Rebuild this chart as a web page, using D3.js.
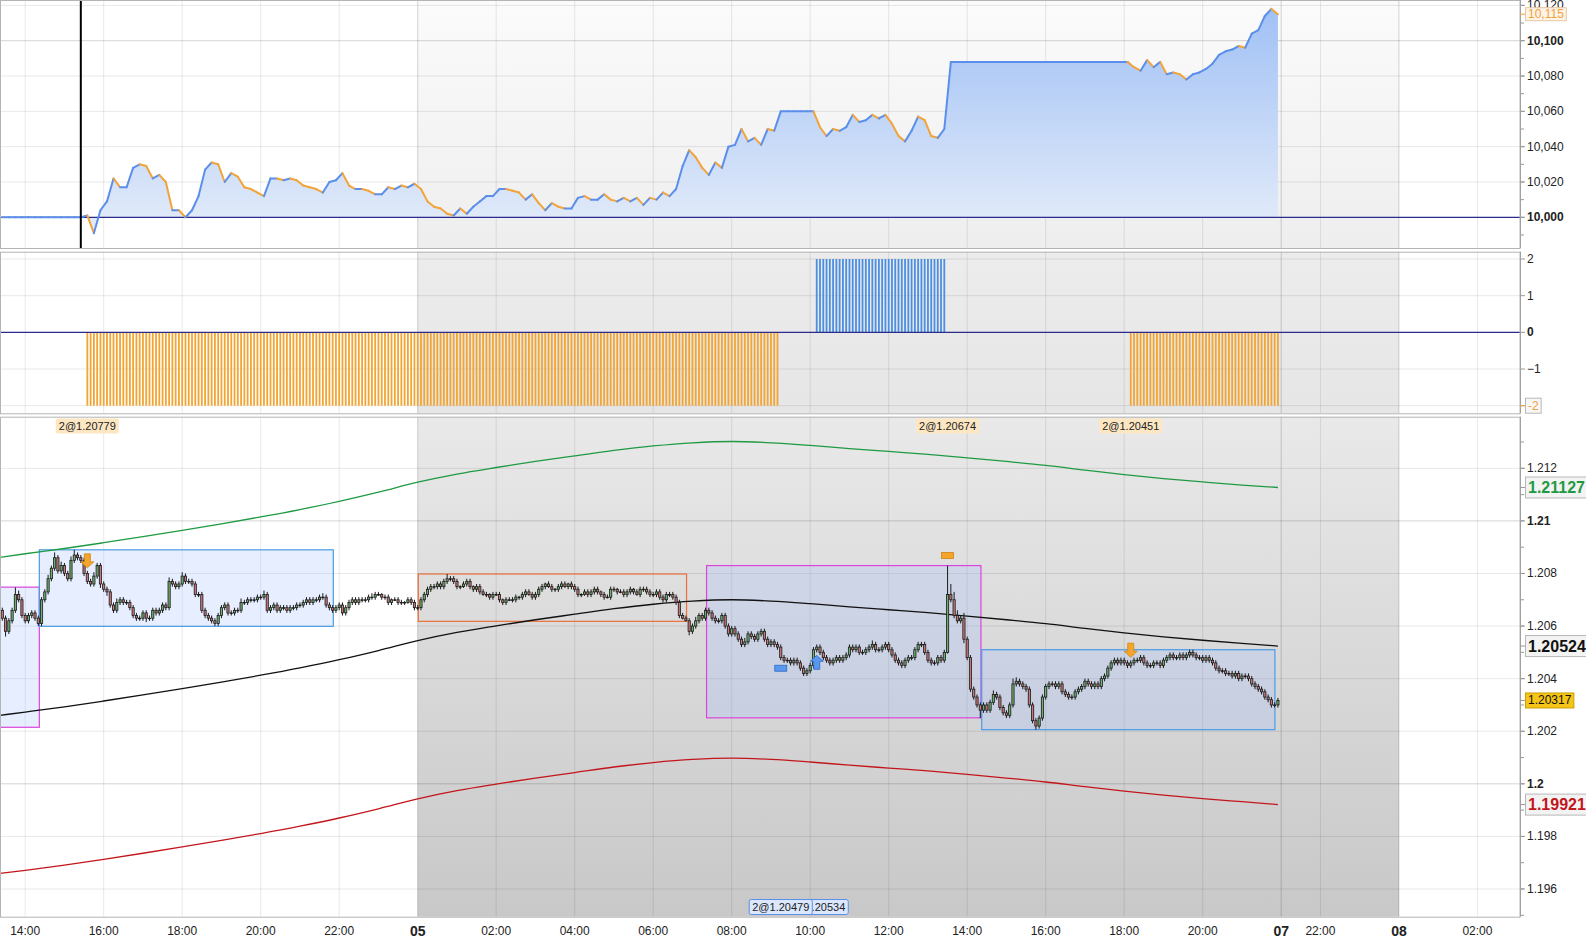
<!DOCTYPE html>
<html>
<head>
<meta charset="utf-8">
<script src="https://cdn.jsdelivr.net/npm/d3@7"></script>
<style>
body { margin: 0; background: #fff; }
svg { display: block; font-family: "Liberation Sans", Arial, sans-serif; }
</style>
</head>
<body>
<script>
// ---- data -------------------------------------------------------------
// 5 minute candles from 13:20 (day 04) to 21:55 (day 05), closes in pips above 1.2000
var firstOpen = 64;
var closes = [
  66,63,58,62,66,72,70,64,                 // 13:20
  62,64,65,63,61,70,73,78,82,86,81,83,     // 14:00
  80,78,85,87,86,85,80,77,76,79,83,76,     // 15:00
  74,73,68,66,69,70,69,69,67,64,63,63,     // 16:00
  65,63,63,66,65,66,68,67,77,76,75,76,     // 17:00
  79,77,77,76,72,72,66,64,63,62,61,64,     // 18:00
  67,68,65,65,66,66,69,69,70,70,70,71,     // 19:00
  71,72,66,67,68,66,67,67,66,67,67,68,     // 20:00
  68,69,70,69,70,70,71,71,68,67,66,67,     // 21:00
  68,65,67,69,70,69,70,70,70,71,71,72,     // 22:00
  72,71,71,69,70,70,69,69,69,70,69,67,     // 23:00
  67,70,72,74,75,75,76,75,77,78,78,77,     // 00:00 (05)
  75,75,76,77,75,74,75,73,72,72,71,72,     // 01:00
  72,70,69,70,70,70,71,71,72,73,72,71,     // 02:00
  72,74,75,76,75,74,74,75,76,75,76,75,     // 03:00
  74,72,72,73,72,73,74,73,72,71,71,74,     // 04:00
  74,73,73,72,73,74,73,72,74,74,73,72,     // 05:00
  72,73,71,70,72,72,71,69,64,63,62,58,     // 06:00
  60,62,64,63,66,65,63,62,62,64,60,57,     // 07:00
  59,57,55,53,54,57,56,55,57,58,55,53,     // 08:00
  54,53,52,48,47,47,46,47,46,44,42,43,     // 09:00
  45,51,52,50,48,47,46,47,48,47,48,49,     // 10:00
  52,51,52,50,50,51,52,53,51,51,52,53,     // 11:00
  51,49,47,46,45,47,48,48,51,53,53,50,     // 12:00
  47,46,46,48,47,50,72,70,64,62,63,55,     // 13:00
  48,36,33,30,28,30,28,31,34,33,29,27,     // 14:00
  26,30,38,39,38,37,36,30,24,22,25,33,     // 15:00
  37,38,38,37,38,35,34,33,33,35,36,37,     // 16:00
  39,38,37,38,37,40,41,44,46,47,46,47,     // 17:00
  46,45,46,47,47,48,46,45,45,46,46,45,     // 18:00
  47,48,49,48,48,49,48,49,50,49,48,48,     // 19:00
  47,48,47,46,44,43,43,42,42,41,42,40,     // 20:00
  41,41,40,38,37,36,35,33,32,30,30,31.7    // 21:00
];
var wickHi = [
  1,1,1,1,1,2.7,1.5,1,
  1,1,1,1,1,1,1,1.5,1,2,1,1.5,
  1,1,1.5,2,1,1,1,1,1,1.5,1,1,
  1,1,1,1,1.5,1,1,1,1,1,1,1,
  1,1,1,1,1,1,1,1,1.5,1,1,1,
  1.5,1,1,1,1,1,1,1,1,1,1,1,
  1,1,1,1,1,1,1.5,1,1,1,1,1,
  1,1.5,1,1,1,1,1,1,1,1,1,1,
  1,1,1,1,1,1,1,1.5,1,1,1,1,
  1,1,1,1,1,1,1,1,1,1,1.5,1,
  1,0.5,1,1,0.5,1,1,1,0.5,1,1,1,
  1,1,1,1,1,1,1,1,1,1.8,1,1,
  1,0.5,1,1,1,0.5,1,1,1,1,0.5,1,
  1,1,0.5,1,1,1,1,0.5,1,1,1,1,
  1,1,1,0.5,1,1,0.5,1,1,1,0.5,1,
  1,1,0.5,1,1,1,1,1,0.5,1,1,1,
  1,0.5,1,1,1,1,0.5,1,1,1,1,1,
  1,1,1,1,1,1,1,1,1,1,1,1,
  1,1.5,1,1,1,1,1,1,1,1,1,1,
  1,1,1,1,1.5,1,1,1,1,1,1,1,
  1,1,1,1,1,1,1,1,1,1,1,1,
  1,1,1,1,1,1,1,1,1,1,1,1,
  1,1,1,1,1,1,1,1.5,1,1,1,1,
  1,1,1,1,1,1,1,1,1,1,1,1,
  1,1,1,1,1,1,11,4,3,2,1,2,
  1,1,1,1,1,1,1,1,1.5,1,1,1,
  1,1,2,1.5,1,1,1,1,1,1,1,1,
  1,1,1,1,1,1,1,1,1,1,1,1,
  1,1,1,1,1,1,1,1,1,1,1,1,
  1,1,1,1,1,1,1,1,1,1,1,1,
  1,1,1,1,1,1,1,1,1,1,1,1,
  1,1,1,1,1,1,1,1,1,1,1,1,
  1,1,1,1,1,1,1,1,1,1,1,1
];
var wickLo = [
  1,1,2,1,1,1,1,1,
  1,1,1,1,1,1,1,1,1,1,1,1,
  1,1,1,1,1,1,1,1,1,1,1,1.5,
  1,1.5,1,1,1,1,1,1,1,1,1,1,
  1,1.5,1,1,1,1,1,1,1,1,1,1,
  1,1,1,1,1,1,1,1,1,1,1,1,
  1,1,1,1,1,1,1,1,1,1,1,1,
  1,1,1,1,1,1,1,1,1,1,1,1,
  1,1,1,1,1,1,1,1,1,1,1,1,
  1,1,1,1,1,1,1,1,1,1,1,1,
  0.5,1,1,1,1,0.5,1,1,1,0.5,1,1,
  1,1,1,1,1,1,1,1,1,1,1,1,
  1,1,0.5,1,1,1,1,1,0.5,1,1,1,
  0.5,1,1,1,0.5,1,1,1,1,1,0.5,1,
  1,1,1,1,0.5,1,1,1,1,0.5,1,1,
  1,1,1,0.5,1,1,1,1,1,1,0.5,1,
  1,1,0.5,1,1,1,1,0.5,1,1,1,1,
  1,1,1,1,1,1,1,1,1,0.5,0.2,1.5,
  1,1,1,1,1,1,1,1,1,1,1,1,
  1,1,1,1,1,1,1,1,1,1,1,1,
  1,1,1,1,1,1,1,1,1,1,1,1,
  1,1,1,1,1,1,1,1,1,1,1,1,
  1,1,1,1,1,1,1,1,1,1,1,1,
  1,1,1,1,1,1,1,1,1,1,1,1,
  1,1,1,1,1,1,0.5,1,1,1,1,1.5,
  1,1,1,1,3,1,1,1,1,1,1,1,
  1,1,1,1,1,1,1,1,1,1.4,1,1,
  1,1,1,1,1,1,1,1,1,1,1,1,
  1,1,1,1,1,1,1,1,1,1,1,1,
  1,1,1,1,1,1,1,1,1,1,1,1,
  1,1,1,1,1,1,1,1,1,1,1,1,
  1,1,1,1,1,1,1,1,1,1,1,1,
  1,1,1,1,1,1,1,1,1,1,1,1
];

// account equity every 10 minutes from 13:25 (candle 1, then every 2nd candle)
var equity = [
  10000,10000,10000,10000,10000,10000,10000,10000,10000,10000,10000,10000,10000,
  10001,9991,10004,10009,10022,10017,10017,10028,10030,10029,10022,10024,10020,10004,10004,10000,10004,10012,10027,10031,10030,
  10020,10025,10023,10017,10016,10014,10012,10022,10022,10021,10022,10021,10018,10017,10016,10014,10020,10021,10025,10018,10016,10016,10015,10013,
  10013,10017,10016,10018,10017,10019,10016,10009,10006,10005,10002,10001,10005,10002,10006,10009,10012,10012,10016,10016,10015,10014,10010,10013,
  10008,10004,10008,10006,10005,10005,10011,10012,10010,10010,10013,10010,10009,10011,10009,10011,10007,10011,10010,10014,10012,10016,10029,10038,
  10034,10028,10024,10031,10028,10040,10041,10050,10043,10045,10041,10050,10049,10060,10060,10060,10060,10060,10060,10051,10046,10050,10049,10051,
  10058,10054,10055,10058,10056,10058,10053,10046,10043,10049,10057,10055,10046,10045,10050,
  10088,10088,10088,10088,10088,10088,10088,10088,10088,10088,10088,10088,10088,10088,
  10088,10088,10088,10088,10088,10088,10088,10088,10088,10088,10088,10088,10088,10088,
  10085,10083,10089,10085,10088,10081,10082,10081,10078,10081,10082,10084,10087,10092,10094,10095,10097,10096,10104,10106,10114,10118,10115
];

// position size: [first candle, last candle, lots]
var posRuns = [[27, 238, -2], [250, 289, 2], [346, 391, -2]];

// moving average envelope, sampled hourly (candle index), pips above 1.2000
var bandIdx = [0,8,20,32,44,56,68,80,92,104,116,128,140,152,164,176,188,200,212,224,236,248,260,272,284,296,308,320,332,344,356,368,380,391];
var bandMid = [26,27.3,29.3,31.5,33.8,36.2,38.7,41.3,44.1,47.2,50.7,54.5,57.6,60.1,62.4,64.5,66.6,68.3,69.5,70,69.5,68.5,67.3,66.2,65.1,63.8,62.4,60.9,59.1,57.4,55.9,54.6,53.4,52.4];
var bandUp = [86.1,87.5,89.5,91.7,94,96.4,98.9,101.5,104.3,107.4,110.9,114.7,117.8,120.3,122.6,124.7,126.8,128.5,129.7,130.2,129.7,128.7,127.5,126.4,125.3,124,122.6,121.1,119.3,117.6,116.1,114.8,113.6,112.7];
var bandLo = [-34.1,-32.9,-30.9,-28.7,-26.4,-24,-21.5,-18.9,-16.1,-13,-9.5,-5.7,-2.6,-0.1,2.2,4.3,6.4,8.1,9.3,9.8,9.3,8.3,7.1,6,4.9,3.6,2.2,0.7,-1.1,-2.8,-4.3,-5.6,-6.8,-7.9];

// range boxes: trading hours from 05 00:00, prices
var boxes = [
  {from: -11,   to: -9.64, top: 1.20748, bottom: 1.20215, color: "#dd44dd", fill: true},
  {from: -9.64, to: -2.15, top: 1.20890, bottom: 1.20599, color: "#4a9be6", fill: true},
  {from: 0.015, to: 6.85,  top: 1.20798, bottom: 1.20618, color: "#e8703a", fill: false},
  {from: 7.36,  to: 14.35, top: 1.20830, bottom: 1.20251, color: "#dd44dd", fill: true},
  {from: 14.37, to: 21.84, top: 1.20510, bottom: 1.20206, color: "#4a9be6", fill: true}
];

var trades = [
  {i: 27,  side: "sell", open: true,  qty: 2, price: 1.20779},
  {i: 239, side: "buy",  open: false, qty: 2, price: 1.20479},
  {i: 250, side: "buy",  open: true,  qty: 2, price: 1.20534},
  {i: 290, side: "sell", open: false, qty: 2, price: 1.20674},
  {i: 346, side: "sell", open: true,  qty: 2, price: 1.20451}
];
var cursorIndex = 25;

var tickHours  = [-10,-8,-6,-4,-2,0,2,4,6,8,10,12,14,16,18,20,22,23,25,27];
var tickLabels = ["14:00","16:00","18:00","20:00","22:00","05","02:00","04:00","06:00","08:00",
                  "10:00","12:00","14:00","16:00","18:00","20:00","07","22:00","08","02:00"];
var dayLabels = ["05","07","08"];
var eqTicks = [10000,10020,10040,10060,10080,10100,10120];
var posTicks = [-2,-1,0,1,2];
var priceTicks = [1.196,1.198,1.2,1.202,1.204,1.206,1.208,1.21,1.212];

// ---- layout -----------------------------------------------------------
var width = 1586, height = 939, plotR = 1520;
var pTop = {y0: 0, y1: 248}, pMid = {y0: 251.7, y1: 413.3}, pBot = {y0: 416.7, y1: 916.7};

var x = d3.scaleLinear().domain([0, 22]).range([417.7, 1281.2]);
var yEq = d3.scaleLinear().domain([10000, 10100]).range([217.3, 40.7]);
var yPos = d3.scaleLinear().domain([-2, 2]).range([405.7, 259]);
var yPx = d3.scaleLinear().domain([1.196, 1.212]).range([889, 468.3]);

function hourOf(i) { return -10 - 8 / 12 + i / 12; }
function price(p) { return 1.2 + p / 10000; }
function xi(i) { return x(hourOf(i)); }

var svg = d3.select("body").append("svg")
    .attr("width", width)
    .attr("height", height);
svg.append("rect").attr("width", width).attr("height", height).attr("fill", "#fff");

var defs = svg.append("defs");
function vgrad(id, y0, y1, c0, c1) {
  var g = defs.append("linearGradient").attr("id", id)
      .attr("gradientUnits", "userSpaceOnUse")
      .attr("x1", 0).attr("x2", 0).attr("y1", y0).attr("y2", y1);
  g.append("stop").attr("offset", 0).attr("stop-color", c0);
  g.append("stop").attr("offset", 1).attr("stop-color", c1);
}
vgrad("shadeTop", pTop.y0, pTop.y1, "#fbfbfb", "#eeeeee");
vgrad("shadeMid", pMid.y0, pMid.y1, "#ececec", "#e6e6e6");
vgrad("shadeBot", pBot.y0, pBot.y1, "#e9e9e9", "#c8c8c8");
vgrad("eqFill", 0, yEq(10000), "#9ebff5", "#dfe9f9");

[["clipTop", pTop], ["clipMid", pMid], ["clipBot", pBot]].forEach(function(c) {
  defs.append("clipPath").attr("id", c[0]).append("rect")
      .attr("x", 0).attr("y", c[1].y0).attr("width", plotR).attr("height", c[1].y1 - c[1].y0);
});

// panel backgrounds and grids
function panelBase(p, shade, hTicks, yScale, majorFn) {
  var g = svg.append("g");
  g.append("rect")
      .attr("x", x(0)).attr("y", p.y0)
      .attr("width", x(25) - x(0)).attr("height", p.y1 - p.y0)
      .attr("fill", "url(#" + shade + ")");
  g.selectAll(".vg").data(tickHours).enter().append("line")
      .attr("x1", function(d) { return x(d); }).attr("x2", function(d) { return x(d); })
      .attr("y1", p.y0).attr("y2", p.y1)
      .attr("stroke", function(d, k) { return dayLabels.indexOf(tickLabels[k]) >= 0 ? "rgba(0,0,0,0.17)" : "rgba(0,0,0,0.09)"; });
  g.selectAll(".hg").data(hTicks).enter().append("line")
      .attr("x1", 0).attr("x2", plotR)
      .attr("y1", function(d) { return yScale(d); }).attr("y2", function(d) { return yScale(d); })
      .attr("stroke", function(d) { return majorFn(d) ? "rgba(0,0,0,0.17)" : "rgba(0,0,0,0.09)"; });
  return g;
}
panelBase(pTop, "shadeTop", eqTicks.filter(function(d) { return d !== 10000; }), yEq,
          function(d) { return d % 100 === 0; });
panelBase(pMid, "shadeMid", posTicks.filter(function(d) { return d !== 0; }), yPos,
          function() { return false; });
panelBase(pBot, "shadeBot", priceTicks, yPx,
          function(d) { return Math.abs(d * 100 - Math.round(d * 100)) < 1e-6; });

// ---- equity panel -----------------------------------------------------
var eqPts = equity.map(function(v, j) { return {x: xi(2 * j + 1), v: v}; });
var gTop = svg.append("g").attr("clip-path", "url(#clipTop)");
gTop.append("path")
    .datum(eqPts)
    .attr("fill", "url(#eqFill)")
    .attr("d", d3.area().x(function(d) { return d.x; })
                .y0(yEq(10000)).y1(function(d) { return yEq(d.v); }));
gTop.append("line")
    .attr("x1", 0).attr("x2", plotR)
    .attr("y1", yEq(10000)).attr("y2", yEq(10000))
    .attr("stroke", "#2b2b8c").attr("stroke-width", 1.2);
gTop.selectAll(".seg").data(d3.pairs(eqPts)).enter().append("line")
    .attr("x1", function(d) { return d[0].x; }).attr("y1", function(d) { return yEq(d[0].v); })
    .attr("x2", function(d) { return d[1].x; }).attr("y2", function(d) { return yEq(d[1].v); })
    .attr("stroke", function(d) { return d[1].v < d[0].v ? "#f2a43a" : "#5b8fe9"; })
    .attr("stroke-width", 2)
    .attr("stroke-linecap", "round");
gTop.append("line")
    .attr("x1", xi(cursorIndex)).attr("x2", xi(cursorIndex))
    .attr("y1", pTop.y0).attr("y2", pTop.y1)
    .attr("stroke", "#000").attr("stroke-width", 2);

// ---- position panel ---------------------------------------------------
var posBars = [];
posRuns.forEach(function(r) {
  for (var i = r[0]; i <= r[1]; i++) posBars.push({i: i, v: r[2]});
});
var gMid = svg.append("g").attr("clip-path", "url(#clipMid)");
gMid.selectAll(".pb").data(posBars).enter().append("rect")
    .attr("x", function(d) { return xi(d.i) - 0.9; })
    .attr("width", 1.8)
    .attr("y", function(d) { return Math.min(yPos(0), yPos(d.v)); })
    .attr("height", function(d) { return Math.abs(yPos(d.v) - yPos(0)); })
    .attr("fill", function(d) { return d.v < 0 ? "#f3a533" : "#4b8fe2"; });
gMid.append("line")
    .attr("x1", 0).attr("x2", plotR)
    .attr("y1", yPos(0)).attr("y2", yPos(0))
    .attr("stroke", "#2b2b8c").attr("stroke-width", 1.2);

// ---- price panel ------------------------------------------------------
var gBot = svg.append("g").attr("clip-path", "url(#clipBot)");
gBot.selectAll(".box").data(boxes).enter().append("rect")
    .attr("x", function(d) { return x(d.from); })
    .attr("width", function(d) { return x(d.to) - x(d.from); })
    .attr("y", function(d) { return yPx(d.top); })
    .attr("height", function(d) { return yPx(d.bottom) - yPx(d.top); })
    .attr("fill", function(d) { return d.fill ? "rgba(160,190,255,0.26)" : "none"; })
    .attr("stroke", function(d) { return d.color; })
    .attr("stroke-width", 1.2);

var bandLine = function(arr) {
  return d3.line()
      .x(function(d, k) { return xi(bandIdx[k]); })
      .y(function(d) { return yPx(price(d)); })
      .curve(d3.curveMonotoneX)(arr);
};
[[bandUp, "#1f9a42"], [bandMid, "#111"], [bandLo, "#c3161c"]].forEach(function(b) {
  gBot.append("path").attr("d", bandLine(b[0]))
      .attr("fill", "none").attr("stroke", b[1]).attr("stroke-width", 1.3);
});

var candles = closes.map(function(c, i) {
  var o = i ? closes[i - 1] : firstOpen;
  return {i: i, o: o, c: c, h: Math.max(o, c) + wickHi[i], l: Math.min(o, c) - wickLo[i]};
});
var cg = gBot.selectAll(".candle").data(candles).enter().append("g");
cg.append("line")
    .attr("x1", function(d) { return xi(d.i); }).attr("x2", function(d) { return xi(d.i); })
    .attr("y1", function(d) { return yPx(price(d.h)); })
    .attr("y2", function(d) { return yPx(price(d.l)); })
    .attr("stroke", "#1a1a1a").attr("stroke-width", 1);
cg.append("rect")
    .attr("x", function(d) { return xi(d.i) - 1.1; })
    .attr("width", 2.2)
    .attr("y", function(d) { return yPx(price(Math.max(d.o, d.c))); })
    .attr("height", function(d) { return Math.max(0.6, Math.abs(yPx(price(d.o)) - yPx(price(d.c)))); })
    .attr("fill", function(d) { return d.c > d.o ? "#6fae6f" : d.c < d.o ? "#c87878" : "#1a1a1a"; })
    .attr("stroke", "#1a1a1a").attr("stroke-width", 0.8);

// trade markers and labels
function arrowPath(cx, tipY, dir) {
  var s = dir; // +1 points down, -1 points up
  return "M" + (cx - 3) + "," + (tipY - 14 * s) + "L" + (cx + 3) + "," + (tipY - 14 * s) +
         "L" + (cx + 3) + "," + (tipY - 6 * s) + "L" + (cx + 6.5) + "," + (tipY - 6 * s) +
         "L" + cx + "," + tipY + "L" + (cx - 6.5) + "," + (tipY - 6 * s) +
         "L" + (cx - 3) + "," + (tipY - 6 * s) + "Z";
}
var gMk = svg.append("g");
trades.forEach(function(t) {
  var c = candles[t.i], cx = xi(t.i);
  var sell = t.side === "sell";
  var fill = sell ? "#f5a62a" : "#5a97ee", stroke = sell ? "#cf8512" : "#2f6cc4";
  if (t.open) {
    var tip = sell ? yPx(price(c.h)) - 3 : yPx(price(c.l)) + 3;
    gMk.append("path").attr("d", arrowPath(cx, tip, sell ? 1 : -1))
        .attr("fill", fill).attr("stroke", stroke).attr("stroke-width", 0.8);
  } else {
    var ry = sell ? yPx(price(c.h)) - 13 : yPx(price(c.l)) + 5;
    gMk.append("rect").attr("x", cx - 6).attr("y", ry).attr("width", 12).attr("height", 6)
        .attr("fill", fill).attr("stroke", stroke).attr("stroke-width", 0.8);
  }
});
trades.slice().reverse().forEach(function(t) {
  var sell = t.side === "sell";
  var cx = xi(t.i), cy = sell ? 426 : 907;
  var g = gMk.append("g");
  var r = g.append("rect");
  var txt = g.append("text")
      .attr("x", cx).attr("y", cy).attr("text-anchor", "middle")
      .attr("dominant-baseline", "central")
      .attr("font-size", 11).attr("fill", "#222")
      .text(t.qty + "@" + t.price.toFixed(5));
  var w = txt.node().getComputedTextLength() + 6;
  r.attr("x", cx - w / 2).attr("y", cy - 7.5).attr("width", w).attr("height", 15)
      .attr("rx", 2)
      .attr("fill", sell ? "#fde7c2" : "#dbe7fd")
      .attr("stroke", sell ? "none" : "#5b8fe9").attr("stroke-width", 1);
});

// ---- frames and right axis --------------------------------------------
[pTop, pMid, pBot].forEach(function(p) {
  svg.append("rect").attr("x", 0.5).attr("y", p.y0 + 0.5)
      .attr("width", plotR - 0.5).attr("height", p.y1 - p.y0)
      .attr("fill", "none").attr("stroke", "#b4b4b4");
});

var gAx = svg.append("g").attr("font-size", 12).attr("fill", "#222");
function axisTicks(p, ticks, yScale, fmt, boldFn, minorStep) {
  if (minorStep) {
    var dom = yScale.invert(p.y1), top = yScale.invert(p.y0);
    var minors = d3.range(Math.ceil(dom / minorStep), Math.floor(top / minorStep) + 1)
        .map(function(k) { return k * minorStep; });
    gAx.selectAll(null).data(minors).enter().append("line")
        .attr("x1", plotR).attr("x2", plotR + 4)
        .attr("y1", function(d) { return yScale(d); }).attr("y2", function(d) { return yScale(d); })
        .attr("stroke", "#999");
  }
  gAx.selectAll(null).data(ticks).enter().append("line")
      .attr("x1", plotR).attr("x2", plotR + 5)
      .attr("y1", function(d) { return yScale(d); }).attr("y2", function(d) { return yScale(d); })
      .attr("stroke", "#999");
  gAx.selectAll(null).data(ticks).enter().append("text")
      .attr("x", plotR + 7)
      .attr("y", function(d) { return yScale(d); })
      .attr("dominant-baseline", "central")
      .attr("font-weight", function(d) { return boldFn(d) ? "bold" : null; })
      .text(fmt);
}
axisTicks(pTop, eqTicks, yEq, d3.format(","), function(d) { return d % 100 === 0; }, 10);
axisTicks(pMid, posTicks, yPos, d3.format("d"), function(d) { return d === 0; }, 0);
axisTicks(pBot, priceTicks, yPx, d3.format(".4~f"),
          function(d) { return Math.abs(d * 100 - Math.round(d * 100)) < 1e-6; }, 0.001);
[pTop, pMid, pBot].forEach(function(p) {
  gAx.append("line").attr("x1", plotR + 0.5).attr("x2", plotR + 0.5)
      .attr("y1", p.y0).attr("y2", p.y1).attr("stroke", "#a0a0a0");
});

// last value tags
function tag(y, text, opt) {
  var g = gAx.append("g");
  g.append("line").attr("x1", plotR).attr("x2", plotR + 6).attr("y1", y).attr("y2", y)
      .attr("stroke", opt.tick || "#999");
  var r = g.append("rect");
  var t = g.append("text").attr("x", plotR + 8).attr("y", y)
      .attr("dominant-baseline", "central")
      .attr("font-size", opt.size).attr("font-weight", opt.bold ? "bold" : null)
      .attr("fill", opt.color).text(text);
  var w = opt.full ? width - plotR - 5 : t.node().getComputedTextLength() + 5;
  r.attr("x", plotR + 5.5).attr("y", y - opt.h / 2).attr("width", w).attr("height", opt.h)
      .attr("fill", opt.bg).attr("stroke", opt.border);
}
var lastEq = equity[equity.length - 1], lastPos = posRuns[posRuns.length - 1][2];
var lastClose = closes[closes.length - 1];
tag(yEq(lastEq), d3.format(",")(lastEq),
    {size: 12, color: "#f0a23c", bg: "#fdf3e6", border: "#e6c9a4", h: 13, tick: "#f0a23c"});
tag(yPos(lastPos), String(lastPos),
    {size: 12, color: "#f0a23c", bg: "#f7f7f7", border: "#b8b8b8", h: 15, tick: "#f0a23c"});
tag(yPx(price(bandUp[bandUp.length - 1])), price(bandUp[bandUp.length - 1]).toFixed(5),
    {size: 16, bold: true, color: "#1f9a42", bg: "#f3f3f3", border: "#b8b8b8", h: 21, full: true});
tag(yPx(price(bandMid[bandMid.length - 1])), price(bandMid[bandMid.length - 1]).toFixed(5),
    {size: 16, bold: true, color: "#111", bg: "#f3f3f3", border: "#b8b8b8", h: 21, full: true});
tag(yPx(price(bandLo[bandLo.length - 1])), price(bandLo[bandLo.length - 1]).toFixed(5),
    {size: 16, bold: true, color: "#c3161c", bg: "#f3f3f3", border: "#b8b8b8", h: 21, full: true});
tag(yPx(price(lastClose)), price(lastClose).toFixed(5),
    {size: 12, color: "#111", bg: "#f5c518", border: "#c9a000", h: 15});

// time axis
svg.append("g").selectAll("text").data(tickHours).enter().append("text")
    .attr("x", function(d) { return x(d); })
    .attr("y", 931)
    .attr("text-anchor", "middle")
    .attr("dominant-baseline", "central")
    .attr("font-size", function(d, k) { return dayLabels.indexOf(tickLabels[k]) >= 0 ? 14 : 12; })
    .attr("font-weight", function(d, k) { return dayLabels.indexOf(tickLabels[k]) >= 0 ? "bold" : null; })
    .attr("fill", "#222")
    .text(function(d, k) { return tickLabels[k]; });
</script>
</body>
</html>
